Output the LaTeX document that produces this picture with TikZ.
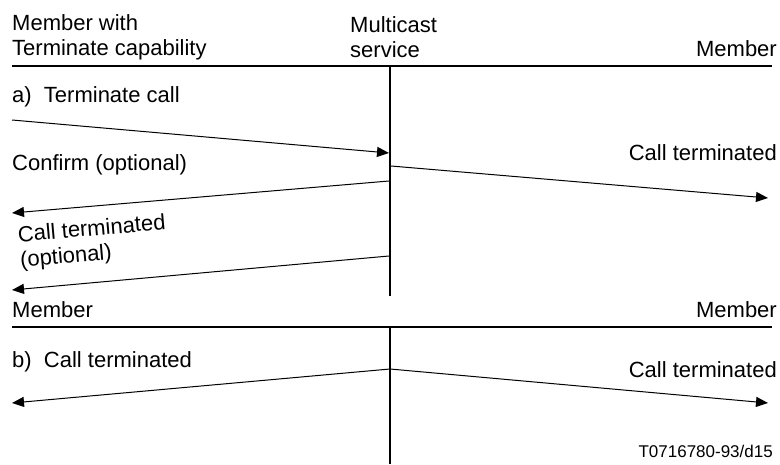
\documentclass[tikz,border=0pt]{standalone}
\usepackage{fontspec}
\setmainfont{Liberation Sans}
\usetikzlibrary{arrows.meta,positioning}

\begin{document}
\begin{tikzpicture}[x=1pt,y=-1pt,
    lbl/.style={inner sep=0pt,align=left,font=\fontsize{22}{25}\selectfont},
    rule/.style={draw=black,line width=2pt},
    msg/.style={-{Triangle[length=12pt,width=10pt]},draw=black,line width=1pt}
  ]
  \useasboundingbox (0,0) rectangle (780,464);
  % headers
  \node[lbl,anchor=west] (mtc) at (12,37) {Member with\\Terminate capability};
  \node[lbl,anchor=west] (mcs) at (350,37) {Multicast\\service};
  \node[lbl,anchor=east] (mb) at (777,49) {Member};
  \coordinate (tl) at (12,66);\coordinate (tr) at (772,66);
  \coordinate (va) at (390,66);\coordinate (vb) at (390,296);
  \draw[rule] (tl)--(tr);\draw[rule] (va)--(vb);
  % a)
  \node[lbl,anchor=west] (ta) at (12,97) {a)\ \ Terminate call};
  \coordinate (a1) at (12,120);\coordinate (a2) at (389,153);
  \draw[msg] (a1)--(a2);
  \node[lbl,anchor=west] (cf) at (12,165) {Confirm (optional)};
  \node[lbl,anchor=east] (ct1) at (777,153) {Call terminated};
  \coordinate (b1) at (391,166);\coordinate (b2) at (768,198);
  \draw[msg] (b1)--(b2);
  \coordinate (c1) at (389,181);\coordinate (c2) at (12,213);
  \draw[msg] (c1)--(c2);
  \node[lbl,anchor=west,rotate=5] (cto) at (19,249) {Call terminated\\(optional)};
  \coordinate (d1) at (389,256);\coordinate (d2) at (12,290);
  \draw[msg] (d1)--(d2);
  % b)
  \node[lbl,anchor=west] (ml) at (12,310) {Member};
  \node[lbl,anchor=east] (mr) at (777,310) {Member};
  \coordinate (bl) at (12,327);\coordinate (br) at (772,327);
  \coordinate (vc) at (390,327);\coordinate (vd) at (390,464);
  \draw[rule] (bl)--(br);\draw[rule] (vc)--(vd);
  \node[lbl,anchor=west] (tb) at (12,362) {b)\ \ Call terminated};
  \node[lbl,anchor=east] (ct2) at (777,370) {Call terminated};
  \coordinate (ap) at (390,369);
  \coordinate (el) at (12,403);\coordinate (er) at (768,403);
  \draw[msg] (ap)--(el);\draw[msg] (ap)--(er);
  \node[inner sep=0pt,anchor=east,font=\fontsize{17}{20}\selectfont] (ref) at (773,451) {T0716780-93/d15};
\end{tikzpicture}
\end{document}
